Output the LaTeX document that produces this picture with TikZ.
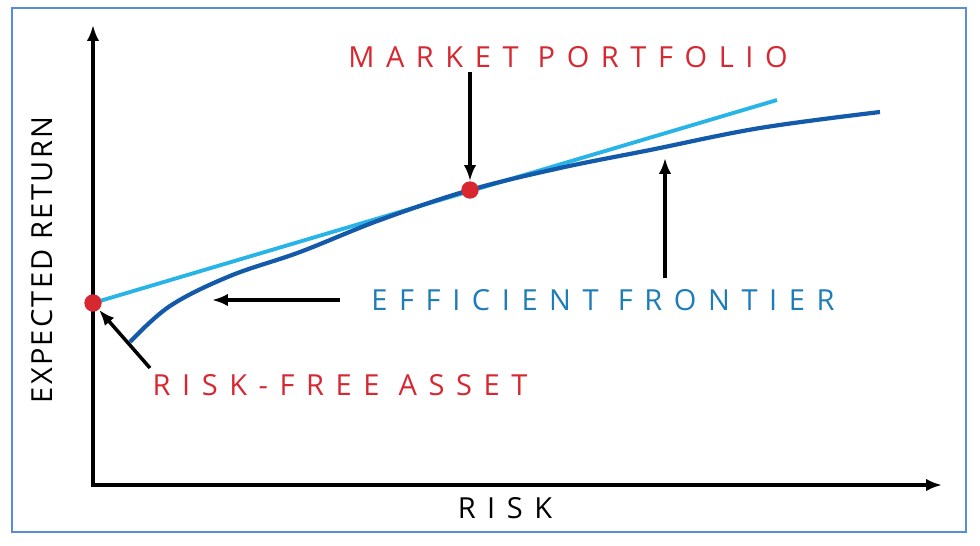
\documentclass[tikz,border=0pt]{standalone}
\usepackage{fontspec}
\usetikzlibrary{arrows.meta}
\setmainfont{Open Sans}[LetterSpace=40]
\newfontfamily\yfont{Open Sans}[LetterSpace=8]
\definecolor{rd}{RGB}{215,40,50}
\definecolor{tb}{RGB}{30,125,185}
\definecolor{lb}{RGB}{40,180,230}
\definecolor{db}{RGB}{20,90,170}
\definecolor{bd}{RGB}{90,140,220}
\begin{document}
\begin{tikzpicture}[x=0.02cm,y=-0.02cm,
  ar/.style={-{Latex[length=9pt,width=7pt]},line width=2pt},
  lab/.style={font=\fontsize{16.5}{20}\selectfont}]
\useasboundingbox (0,0) rectangle (980,545);
\draw[bd,line width=1pt] (12,8) rectangle (966,532);
\draw[ar,line width=2.2pt] (93,487) -- (93,25);
\draw[ar,line width=2.2pt] (91,485) -- (942,485);
\node[rotate=90,font=\yfont\fontsize{16.5}{20}\selectfont] (yl) at (42,260) {EXPECTED RETURN};
\node[lab] (xl) at (505,508) {RISK};
\draw[lb,line width=2.2pt] (93,303) -- (777,100);
\draw[db,line width=2.4pt] plot[smooth,tension=0.6] coordinates {(130,342) (170,306) (230,276) (300,252) (380,220) (470,190) (560,168) (650,150) (760,128) (880,112)};
\node[circle,fill=rd,inner sep=3.5pt] (mp) at (470,190) {};
\node[circle,fill=rd,inner sep=3.5pt] (rf) at (93,303) {};
\node[lab,text=rd] (mpt) at (568,57) {MARKET PORTFOLIO};
\node[lab,text=tb] (eft) at (603,300) {EFFICIENT FRONTIER};
\node[lab,text=rd] (rft) at (340,385) {RISK-FREE ASSET};
\coordinate (a1) at (470,72);
\draw[ar] (a1) -- (mp);
\coordinate (a2) at (340,300); \coordinate (a2e) at (212,300);
\draw[ar] (a2) -- (a2e);
\coordinate (a3) at (665,278); \coordinate (a3e) at (665,158);
\draw[ar] (a3) -- (a3e);
\coordinate (a4) at (150,368);
\draw[ar] (a4) -- (rf);
\end{tikzpicture}
\end{document}
